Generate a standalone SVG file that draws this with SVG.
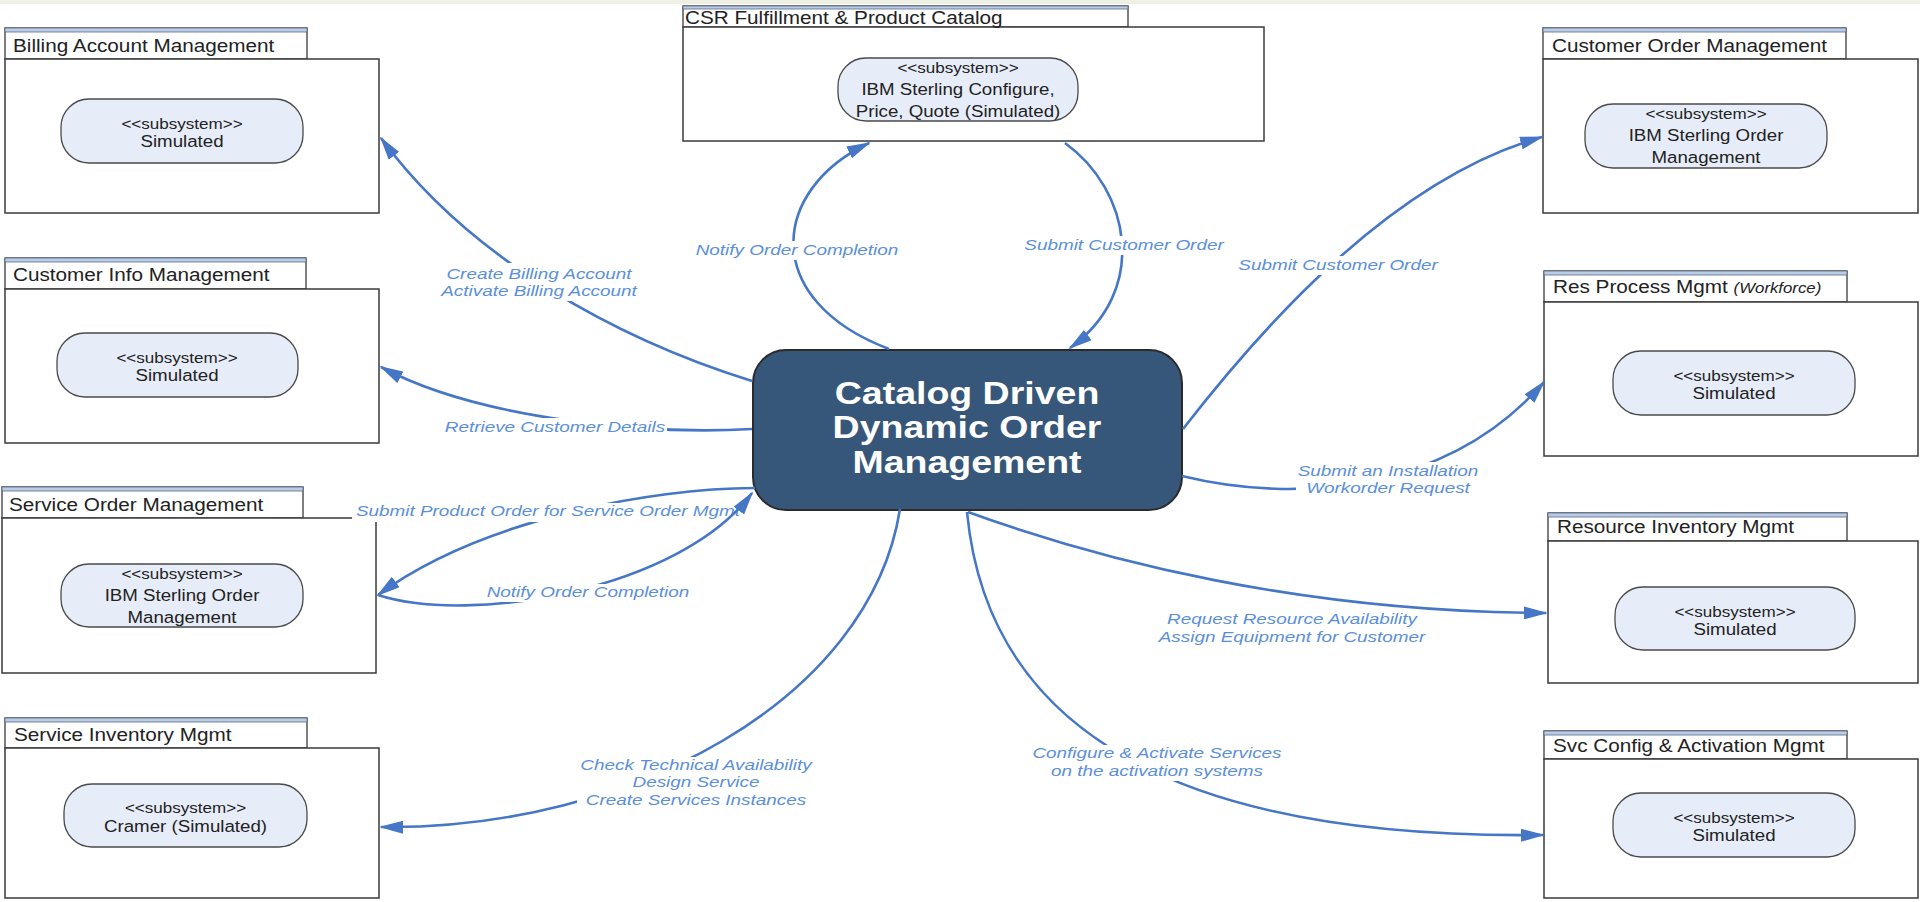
<svg xmlns="http://www.w3.org/2000/svg" width="1920" height="902" viewBox="0 0 1920 902">
  <defs>
    <style>
      .tab { fill: #ffffff; stroke: #3a3a3a; stroke-width: 1.3; }
      .band { fill: #b9cde9; stroke: #5a6a80; stroke-width: 0.8; }
      .box { fill: #ffffff; stroke: #3a3a3a; stroke-width: 1.5; }
      .sub { fill: #e7edf8; stroke: #4a4a4a; stroke-width: 1.3; }
      .title { font-family: "Liberation Sans", Arial, sans-serif; font-size: 18.5px; fill: #222222; }
      .title .aside { font-size: 15px; font-style: italic; }
      .stereo { font-family: "Liberation Sans", Arial, sans-serif; font-size: 15.5px; fill: #222222; text-anchor: middle; }
      .sname { font-family: "Liberation Sans", Arial, sans-serif; font-size: 17px; fill: #222222; text-anchor: middle; }
      .core { fill: #36567a; stroke: #2b2b2b; stroke-width: 2; }
      .coretxt { font-family: "Liberation Sans", Arial, sans-serif; font-size: 31px; font-weight: bold; fill: #ffffff; text-anchor: middle; }
      .conn { fill: none; stroke: #4677c6; stroke-width: 2.6; marker-end: url(#arrow); }
      .lbg { fill: #ffffff; }
      .lbl { font-family: "Liberation Sans", Arial, sans-serif; font-size: 15.5px; font-style: italic; fill: #5b8fdb; text-anchor: middle; }
    </style>
    <marker id="arrow" markerUnits="userSpaceOnUse" markerWidth="24" markerHeight="13" refX="22" refY="6.5" orient="auto">
      <path d="M0,0 L24,6.5 L0,13 Z" fill="#4677c6"/>
    </marker>
  </defs>

  <rect x="0" y="0" width="1920" height="902" fill="#ffffff"/>
  <rect x="0" y="0" width="1920" height="4" fill="#eef0e3"/>

  <!-- left column -->
  <g id="billing-account-mgmt">
    <rect class="tab" x="5" y="28" width="302" height="31"/>
    <rect class="band" x="5" y="28" width="302" height="4"/>
    <rect class="box" x="5" y="59" width="374" height="154"/>
    <text class="title" transform="translate(13 52) scale(1.12 1)">Billing Account Management</text>
    <rect class="sub" x="61" y="99" width="242" height="64" rx="28"/>
    <text class="stereo" transform="translate(182 129) scale(1.1 1)">&lt;&lt;subsystem&gt;&gt;</text>
    <text class="sname" transform="translate(182 147) scale(1.1 1)">Simulated</text>
  </g>

  <g id="customer-info-mgmt">
    <rect class="tab" x="5" y="258" width="301" height="31"/>
    <rect class="band" x="5" y="258" width="301" height="4"/>
    <rect class="box" x="5" y="289" width="374" height="154"/>
    <text class="title" transform="translate(13 281) scale(1.12 1)">Customer Info Management</text>
    <rect class="sub" x="57" y="333" width="241" height="64" rx="28"/>
    <text class="stereo" transform="translate(177 363) scale(1.1 1)">&lt;&lt;subsystem&gt;&gt;</text>
    <text class="sname" transform="translate(177 381) scale(1.1 1)">Simulated</text>
  </g>

  <g id="service-order-mgmt">
    <rect class="tab" x="2" y="487" width="301" height="31"/>
    <rect class="band" x="2" y="487" width="301" height="4"/>
    <rect class="box" x="2" y="518" width="374" height="155"/>
    <text class="title" transform="translate(9 511) scale(1.12 1)">Service Order Management</text>
    <rect class="sub" x="61" y="564" width="242" height="63" rx="28"/>
    <text class="stereo" transform="translate(182 578.5) scale(1.1 1)">&lt;&lt;subsystem&gt;&gt;</text>
    <text class="sname" transform="translate(182 601) scale(1.1 1)">IBM Sterling Order</text>
    <text class="sname" transform="translate(182 622.5) scale(1.1 1)">Management</text>
  </g>

  <g id="service-inventory-mgmt">
    <rect class="tab" x="5" y="718" width="302" height="30"/>
    <rect class="band" x="5" y="718" width="302" height="4"/>
    <rect class="box" x="5" y="748" width="374" height="150"/>
    <text class="title" transform="translate(14 741) scale(1.12 1)">Service Inventory Mgmt</text>
    <rect class="sub" x="64" y="784" width="243" height="63" rx="28"/>
    <text class="stereo" transform="translate(185.5 813) scale(1.1 1)">&lt;&lt;subsystem&gt;&gt;</text>
    <text class="sname" transform="translate(185.5 832) scale(1.1 1)">Cramer (Simulated)</text>
  </g>

  <!-- top centre -->
  <g id="csr-fulfillment-catalog">
    <rect class="tab" x="683" y="6" width="445" height="21"/>
    <rect class="band" x="683" y="6" width="445" height="3"/>
    <rect class="box" x="683" y="27" width="581" height="114"/>
    <text class="title" transform="translate(685 23.5) scale(1.12 1)">CSR Fulfillment &amp; Product Catalog</text>
    <rect class="sub" x="838" y="58" width="240" height="63" rx="28"/>
    <text class="stereo" transform="translate(958 72.5) scale(1.1 1)">&lt;&lt;subsystem&gt;&gt;</text>
    <text class="sname" transform="translate(958 95) scale(1.1 1)">IBM Sterling Configure,</text>
    <text class="sname" transform="translate(958 116.5) scale(1.1 1)">Price, Quote (Simulated)</text>
  </g>

  <!-- right column -->
  <g id="customer-order-mgmt">
    <rect class="tab" x="1543" y="28" width="303" height="31"/>
    <rect class="band" x="1543" y="28" width="303" height="4"/>
    <rect class="box" x="1543" y="59" width="375" height="154"/>
    <text class="title" transform="translate(1552 52) scale(1.12 1)">Customer Order Management</text>
    <rect class="sub" x="1585" y="104" width="242" height="64" rx="28"/>
    <text class="stereo" transform="translate(1706 118.5) scale(1.1 1)">&lt;&lt;subsystem&gt;&gt;</text>
    <text class="sname" transform="translate(1706 141) scale(1.1 1)">IBM Sterling Order</text>
    <text class="sname" transform="translate(1706 162.5) scale(1.1 1)">Management</text>
  </g>

  <g id="res-process-mgmt">
    <rect class="tab" x="1544" y="271" width="303" height="31"/>
    <rect class="band" x="1544" y="271" width="303" height="4"/>
    <rect class="box" x="1544" y="302" width="374" height="154"/>
    <text class="title" transform="translate(1553 293) scale(1.12 1)">Res Process Mgmt <tspan class="aside">(Workforce)</tspan></text>
    <rect class="sub" x="1613" y="351" width="242" height="64" rx="28"/>
    <text class="stereo" transform="translate(1734 381) scale(1.1 1)">&lt;&lt;subsystem&gt;&gt;</text>
    <text class="sname" transform="translate(1734 399) scale(1.1 1)">Simulated</text>
  </g>

  <g id="resource-inventory-mgmt">
    <rect class="tab" x="1548" y="513" width="299" height="28"/>
    <rect class="band" x="1548" y="513" width="299" height="4"/>
    <rect class="box" x="1548" y="541" width="370" height="142"/>
    <text class="title" transform="translate(1557 533) scale(1.12 1)">Resource Inventory Mgmt</text>
    <rect class="sub" x="1615" y="587" width="240" height="63" rx="28"/>
    <text class="stereo" transform="translate(1735 616.5) scale(1.1 1)">&lt;&lt;subsystem&gt;&gt;</text>
    <text class="sname" transform="translate(1735 634.5) scale(1.1 1)">Simulated</text>
  </g>

  <g id="svc-config-activation-mgmt">
    <rect class="tab" x="1544" y="731" width="303" height="28"/>
    <rect class="band" x="1544" y="731" width="303" height="4"/>
    <rect class="box" x="1544" y="759" width="374" height="139"/>
    <text class="title" transform="translate(1553 752) scale(1.12 1)">Svc Config &amp; Activation Mgmt</text>
    <rect class="sub" x="1613" y="793" width="242" height="64" rx="28"/>
    <text class="stereo" transform="translate(1734 823) scale(1.1 1)">&lt;&lt;subsystem&gt;&gt;</text>
    <text class="sname" transform="translate(1734 841) scale(1.1 1)">Simulated</text>
  </g>

  <!-- central order management hub -->
  <g id="dynamic-order-mgmt">
    <rect class="core" x="753" y="350" width="429" height="160" rx="33"/>
    <text class="coretxt" transform="translate(967 404) scale(1.21 1)">Catalog Driven</text>
    <text class="coretxt" transform="translate(967 438) scale(1.21 1)">Dynamic Order</text>
    <text class="coretxt" transform="translate(967 473) scale(1.21 1)">Management</text>
  </g>

  <g id="connectors">
    <g id="to-billing">
      <path class="conn" d="M752,381 C620,340 470,260 381,138"/>
      <rect class="lbg" x="441" y="263" width="198" height="38"/>
      <text class="lbl" transform="translate(539 279) scale(1.22 1)">Create Billing Account</text>
      <text class="lbl" transform="translate(539 296) scale(1.22 1)">Activate Billing Account</text>
    </g>
    <g id="to-customer-info">
      <path class="conn" d="M752,429 C650,435 480,420 381,367"/>
      <rect class="lbg" x="443" y="418" width="224" height="19"/>
      <text class="lbl" transform="translate(555 432) scale(1.22 1)">Retrieve Customer Details</text>
    </g>
    <g id="to-service-order">
      <path class="conn" d="M755,488 C650,488 480,520 378,595"/>
      <rect class="lbg" x="352" y="503" width="393" height="19"/>
      <text class="lbl" transform="translate(548 516) scale(1.22 1)">Submit Product Order for Service Order Mgmt</text>
    </g>
    <g id="from-service-order">
      <path class="conn" d="M378,595 C470,625 680,590 752,493"/>
      <rect class="lbg" x="485" y="584" width="207" height="18"/>
      <text class="lbl" transform="translate(588 597) scale(1.22 1)">Notify Order Completion</text>
    </g>
    <g id="to-service-inventory">
      <path class="conn" d="M900,509 C870,700 630,830 381,827"/>
      <rect class="lbg" x="577" y="757" width="239" height="53"/>
      <text class="lbl" transform="translate(696 770) scale(1.22 1)">Check Technical Availability</text>
      <text class="lbl" transform="translate(696 787) scale(1.22 1)">Design Service</text>
      <text class="lbl" transform="translate(696 805) scale(1.22 1)">Create Services Instances</text>
    </g>
    <g id="to-svc-config">
      <path class="conn" d="M967,512 C985,700 1130,840 1543,835"/>
      <rect class="lbg" x="1030" y="745" width="254" height="36"/>
      <text class="lbl" transform="translate(1157 758) scale(1.22 1)">Configure &amp; Activate Services</text>
      <text class="lbl" transform="translate(1157 776) scale(1.22 1)">on the activation systems</text>
    </g>
    <g id="to-resource-inventory">
      <path class="conn" d="M968,512 C1100,560 1300,612 1546,613"/>
      <text class="lbl" transform="translate(1292 624) scale(1.22 1)">Request Resource Availability</text>
      <text class="lbl" transform="translate(1292 642) scale(1.22 1)">Assign Equipment for Customer</text>
    </g>
    <g id="to-res-process">
      <path class="conn" d="M1182,476 C1300,505 1450,490 1544,382"/>
      <rect class="lbg" x="1296" y="462" width="184" height="36"/>
      <text class="lbl" transform="translate(1388 476) scale(1.22 1)">Submit an Installation</text>
      <text class="lbl" transform="translate(1388 493) scale(1.22 1)">Workorder Request</text>
    </g>
    <g id="to-customer-order">
      <path class="conn" d="M1183,429 C1260,330 1390,180 1542,137"/>
      <rect class="lbg" x="1236" y="256" width="204" height="19"/>
      <text class="lbl" transform="translate(1338 270) scale(1.22 1)">Submit Customer Order</text>
    </g>
    <g id="from-csr">
      <path class="conn" d="M1065,143 C1130,190 1150,290 1070,348"/>
      <rect class="lbg" x="1022" y="236" width="204" height="19"/>
      <text class="lbl" transform="translate(1124 250) scale(1.22 1)">Submit Customer Order</text>
    </g>
    <g id="to-csr">
      <path class="conn" d="M889,349 C760,300 770,190 869,143"/>
      <rect class="lbg" x="694" y="241" width="207" height="19"/>
      <text class="lbl" transform="translate(797 255) scale(1.22 1)">Notify Order Completion</text>
    </g>
  </g>
</svg>
